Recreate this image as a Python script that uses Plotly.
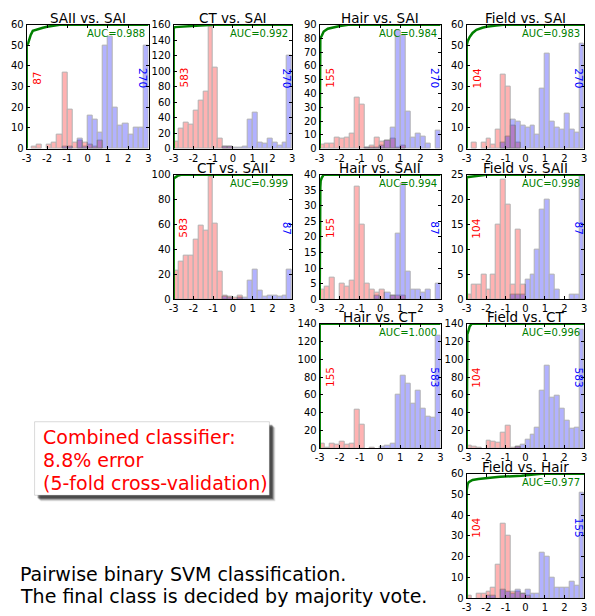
import plotly.graph_objects as go

W, H = 595, 616
FONT = "DejaVu Sans"

# Histogram bins of the SVM decision value: 24 bins of width 0.25 on [-3, 3]
BIN_LO, BIN_W, N_BINS = -3.0, 0.25, 24
bin_centers = [BIN_LO + BIN_W * (i + 0.5) for i in range(N_BINS)]

x_tick_vals = [-3, -2, -1, 0, 1, 2, 3]
x_tick_text = ["-3", "-2", "-1", "0", "1", "2", "3"]

# ---- counts per bin (first class = red, second class = blue) ----
saii_sai_a = [0, 1, 2, 0, 2, 3, 7, 37, 19, 3, 4, 3, 2, 1, 4, 0, 0, 0, 0, 0, 0, 0, 0, 0]
saii_sai_b = [0, 0, 0, 0, 0, 0, 0, 1, 1, 0, 5, 1, 16, 14, 8, 50, 54, 20, 11, 12, 7, 10, 10, 50]

ct_sai_a = [9, 26, 33, 31, 49, 62, 74, 158, 105, 13, 2, 2, 0, 0, 0, 0, 0, 0, 0, 0, 0, 0, 0, 0]
ct_sai_b = [0, 0, 0, 0, 0, 0, 0, 0, 0, 0, 2, 3, 1, 1, 3, 38, 46, 8, 6, 13, 8, 4, 8, 120]

hair_sai_a = [3, 4, 4, 8, 7, 8, 11, 37, 32, 1, 2, 8, 5, 6, 7, 1, 2, 0, 0, 0, 0, 0, 0, 0]
hair_sai_b = [0, 0, 0, 0, 0, 0, 0, 0, 0, 1, 1, 1, 2, 6, 15, 86, 82, 27, 8, 11, 9, 4, 0, 13]

field_sai_a = [0, 3, 0, 3, 5, 2, 9, 36, 30, 11, 3, 0, 0, 0, 0, 0, 0, 0, 0, 0, 0, 0, 0, 0]
field_sai_b = [0, 0, 0, 0, 0, 0, 0, 3, 6, 14, 13, 11, 10, 11, 7, 29, 46, 13, 10, 9, 17, 9, 8, 51]

ct_saii_a = [23, 30, 35, 35, 48, 59, 55, 98, 61, 22, 3, 2, 1, 3, 0, 0, 0, 0, 0, 0, 0, 0, 0, 0]
ct_saii_b = [0, 0, 0, 0, 0, 0, 0, 0, 0, 0, 2, 1, 0, 1, 1, 15, 24, 7, 2, 3, 3, 2, 3, 24]

hair_saii_a = [3, 4, 7, 0, 5, 4, 6, 36, 24, 5, 3, 2, 3, 0, 1, 1, 1, 0, 0, 0, 0, 0, 0, 0]
hair_saii_b = [0, 0, 0, 0, 0, 0, 0, 0, 0, 0, 0, 1, 0, 2, 1, 21, 37, 9, 3, 3, 2, 3, 0, 5]

field_saii_a = [1, 3, 3, 5, 2, 5, 15, 24, 19, 3, 14, 3, 0, 0, 0, 0, 0, 0, 0, 0, 0, 0, 0, 0]
field_saii_b = [0, 0, 0, 0, 0, 0, 0, 0, 0, 1, 1, 1, 4, 5, 10, 18, 20, 5, 2, 0, 0, 1, 1, 25]

hair_ct_a = [5, 1, 5, 4, 7, 4, 5, 43, 27, 0, 1, 0, 0, 0, 0, 0, 0, 0, 0, 0, 0, 0, 0, 0]
hair_ct_b = [0, 0, 0, 0, 0, 0, 0, 0, 0, 0, 0, 0, 2, 3, 5, 60, 82, 73, 50, 65, 45, 36, 34, 127]

field_ct_a = [3, 2, 1, 0, 8, 7, 6, 18, 25, 1, 2, 0, 0, 0, 0, 0, 0, 0, 0, 0, 0, 0, 0, 0]
field_ct_b = [0, 0, 0, 0, 0, 0, 0, 0, 0, 0, 2, 4, 10, 15, 23, 65, 93, 57, 59, 45, 31, 22, 23, 133]

field_hair_a = [1, 0, 2, 2, 3, 5, 16, 36, 30, 3, 3, 2, 1, 0, 0, 0, 0, 0, 0, 0, 0, 0, 0, 0]
field_hair_b = [0, 0, 0, 0, 1, 1, 0, 4, 3, 2, 4, 2, 4, 2, 2, 22, 20, 10, 5, 5, 5, 8, 6, 51]

# ---- ROC curves (false positive rate, true positive rate) ----
saii_sai_fpr = [0, 0, 0.012, 0.033, 0.05, 0.1, 0.133, 0.167, 0.25, 0.283, 1]
saii_sai_tpr = [0, 0.833, 0.85, 0.917, 0.95, 0.967, 0.975, 0.983, 0.992, 1, 1]
ct_sai_fpr = [0, 0, 0.01, 0.1, 0.2, 0.33, 1]
ct_sai_tpr = [0, 0.97, 0.98, 0.985, 0.99, 1, 1]
hair_sai_fpr = [0, 0, 0.005, 0.017, 0.033, 0.067, 0.117, 0.167, 0.25, 1]
hair_sai_tpr = [0, 0.28, 0.89, 0.91, 0.944, 0.967, 0.978, 0.989, 1, 1]
field_sai_fpr = [0, 0, 0.008, 0.025, 0.05, 0.083, 0.133, 0.167, 0.25, 0.333, 1]
field_sai_tpr = [0, 0.833, 0.867, 0.9, 0.933, 0.958, 0.975, 0.983, 0.992, 1, 1]
ct_saii_fpr = [0, 0, 0.033, 0.067, 1]
ct_saii_tpr = [0, 0.97, 0.99, 1, 1]
hair_saii_fpr = [0, 0, 0.005, 0.008, 0.017, 0.033, 1]
hair_saii_tpr = [0, 0.275, 0.9, 0.95, 0.975, 1, 1]
field_saii_fpr = [0, 0, 0.083, 0.167, 1]
field_saii_tpr = [0, 0.98, 0.99, 1, 1]
hair_ct_fpr = [0, 0, 1]
hair_ct_tpr = [0, 1, 1]
field_ct_fpr = [0, 0, 0.005, 0.017, 0.025, 0.042, 1]
field_ct_tpr = [0, 0.714, 0.914, 0.95, 0.978, 1, 1]
field_hair_fpr = [0, 0, 0.008, 0.017, 0.05, 0.1, 0.2, 0.283, 0.467, 0.55, 0.633, 1]
field_hair_tpr = [0, 0.867, 0.917, 0.933, 0.95, 0.958, 0.967, 0.975, 0.983, 0.992, 1, 1]

titles = ["SAII vs. SAI", "CT vs. SAI", "Hair vs. SAI", "Field vs. SAI",
          "CT vs. SAII", "Hair vs. SAII", "Field vs. SAII",
          "Hair vs. CT", "Field vs. CT", "Field vs. Hair"]
n_first = [87, 583, 155, 104, 583, 155, 104, 155, 104, 104]
n_second = [270, 270, 270, 270, 87, 87, 87, 583, 583, 155]
auc_values = [0.988, 0.992, 0.984, 0.983, 0.999, 0.994, 0.998, 1.000, 0.996, 0.977]
y_max = [60, 160, 90, 60, 100, 40, 25, 140, 140, 60]
y_step = [10, 20, 10, 10, 20, 5, 5, 20, 20, 10]
hist_first = [saii_sai_a, ct_sai_a, hair_sai_a, field_sai_a, ct_saii_a,
              hair_saii_a, field_saii_a, hair_ct_a, field_ct_a, field_hair_a]
hist_second = [saii_sai_b, ct_sai_b, hair_sai_b, field_sai_b, ct_saii_b,
               hair_saii_b, field_saii_b, hair_ct_b, field_ct_b, field_hair_b]
roc_fpr = [saii_sai_fpr, ct_sai_fpr, hair_sai_fpr, field_sai_fpr, ct_saii_fpr,
           hair_saii_fpr, field_saii_fpr, hair_ct_fpr, field_ct_fpr, field_hair_fpr]
roc_tpr = [saii_sai_tpr, ct_sai_tpr, hair_sai_tpr, field_sai_tpr, ct_saii_tpr,
           hair_saii_tpr, field_saii_tpr, hair_ct_tpr, field_ct_tpr, field_hair_tpr]

# grid placement (row, col) of each pairwise panel in the upper triangle
grid_pos = [(0, 0), (0, 1), (0, 2), (0, 3), (1, 1), (1, 2), (1, 3), (2, 2), (2, 3), (3, 3)]
COL_PX = [(22, 145.5), (171, 291), (319, 441.5), (468, 587)]
ROW_PX = [(19, 145.5), (172, 299), (324, 451), (477, 604)]


def px_x(v):
    return v / W


def px_y(v):
    return 1 - v / H


fig = go.Figure()
layout = dict(
    width=W, height=H, margin=dict(l=0, r=0, t=0, b=0),
    paper_bgcolor="white", plot_bgcolor="white",
    barmode="overlay", bargap=0, showlegend=False,
    font=dict(family=FONT, color="black"),
)
annotations = []
shapes = []

for k in range(10):
    r, c = grid_pos[k]
    xs, ys = ("x", "y") if k == 0 else (f"x{k+1}", f"y{k+1}")
    xa, ya = ("xaxis", "yaxis") if k == 0 else (f"xaxis{k+1}", f"yaxis{k+1}")
    x0, x1 = COL_PX[c]
    y0, y1 = ROW_PX[r]
    ymax = y_max[k]

    for vals, col in ((hist_first[k], "red"), (hist_second[k], "blue")):
        fig.add_trace(go.Bar(
            x=bin_centers, y=[v if v else None for v in vals], width=BIN_W,
            marker=dict(color=col, line=dict(color="black", width=1)),
            opacity=0.3, xaxis=xs, yaxis=ys, hoverinfo="skip"))

    fig.add_trace(go.Scatter(
        x=[-3 + 6 * f for f in roc_fpr[k]], y=[ymax * t for t in roc_tpr[k]],
        mode="lines", line=dict(color="green", width=2.5),
        xaxis=xs, yaxis=ys, hoverinfo="skip"))

    layout[xa] = dict(
        domain=[px_x(x0), px_x(x1)], anchor=ys, range=[-3, 3],
        tickvals=x_tick_vals, ticktext=x_tick_text, ticks="inside", ticklen=3,
        tickcolor="black", showline=True, linecolor="black", linewidth=1,
        mirror="ticks", showgrid=False, zeroline=False,
        tickfont=dict(size=10, family=FONT))
    layout[ya] = dict(
        domain=[px_y(y1), px_y(y0)], anchor=xs, range=[0, ymax],
        tick0=0, dtick=y_step[k], ticks="inside", ticklen=3, tickcolor="black",
        showline=True, linecolor="black", linewidth=1, mirror="ticks",
        showgrid=False, zeroline=False, tickfont=dict(size=10, family=FONT))

    annotations.append(dict(
        x=(x0 + x1) / 2 / W, y=px_y(y0 - 7), xref="paper", yref="paper",
        text=titles[k], showarrow=False, xanchor="center", yanchor="middle",
        font=dict(size=13.5, family=FONT, color="black")))
    annotations.append(dict(
        x=0.985, y=0.99, xref=f"{xs} domain", yref=f"{ys} domain",
        text=f"AUC={auc_values[k]:.3f}", showarrow=False,
        xanchor="right", yanchor="top",
        font=dict(size=10, family=FONT, color="green")))
    annotations.append(dict(
        x=-2.5, y=0.57, xref=xs, yref=f"{ys} domain", text=str(n_first[k]),
        showarrow=False, textangle=-90, xanchor="center", yanchor="middle",
        font=dict(size=10.5, family=FONT, color="red")))
    annotations.append(dict(
        x=2.72, y=0.57, xref=xs, yref=f"{ys} domain", text=str(n_second[k]),
        showarrow=False, textangle=90, xanchor="center", yanchor="middle",
        font=dict(size=10.5, family=FONT, color="blue")))

# summary box with drop shadow
BOX = (30, 424, 268, 499)
for off, alpha in ((6, 0.12), (5, 0.2), (4, 0.35), (3, 0.35)):
    shapes.append(dict(
        type="rect", xref="paper", yref="paper",
        x0=px_x(BOX[0] + off), x1=px_x(BOX[2] + off),
        y0=px_y(BOX[3] + off), y1=px_y(BOX[1] + off),
        fillcolor=f"rgba(0,0,0,{alpha})", line=dict(width=0), layer="below"))
shapes.append(dict(
    type="rect", xref="paper", yref="paper",
    x0=px_x(BOX[0]), x1=px_x(BOX[2]), y0=px_y(BOX[3]), y1=px_y(BOX[1]),
    fillcolor="white", line=dict(color="rgba(0,0,0,0.15)", width=1), layer="below"))

box_lines = ["Combined classifier:", "8.8% error", "(5-fold cross-validation)"]
for i, line in enumerate(box_lines):
    annotations.append(dict(
        x=px_x(36), y=px_y(440 + 23 * i), xref="paper", yref="paper",
        text=line, showarrow=False, xanchor="left", yanchor="middle",
        font=dict(size=19, family=FONT, color="red")))

caption_lines = ["Pairwise binary SVM classification.",
                 "The final class is decided by majority vote."]
for i, line in enumerate(caption_lines):
    annotations.append(dict(
        x=px_x(13), y=px_y(579 + 23 * i), xref="paper", yref="paper",
        text=line, showarrow=False, xanchor="left", yanchor="middle",
        font=dict(size=19, family=FONT, color="black")))

layout["annotations"] = annotations
layout["shapes"] = shapes
fig.update_layout(**layout)
fig.write_html("out.html")
